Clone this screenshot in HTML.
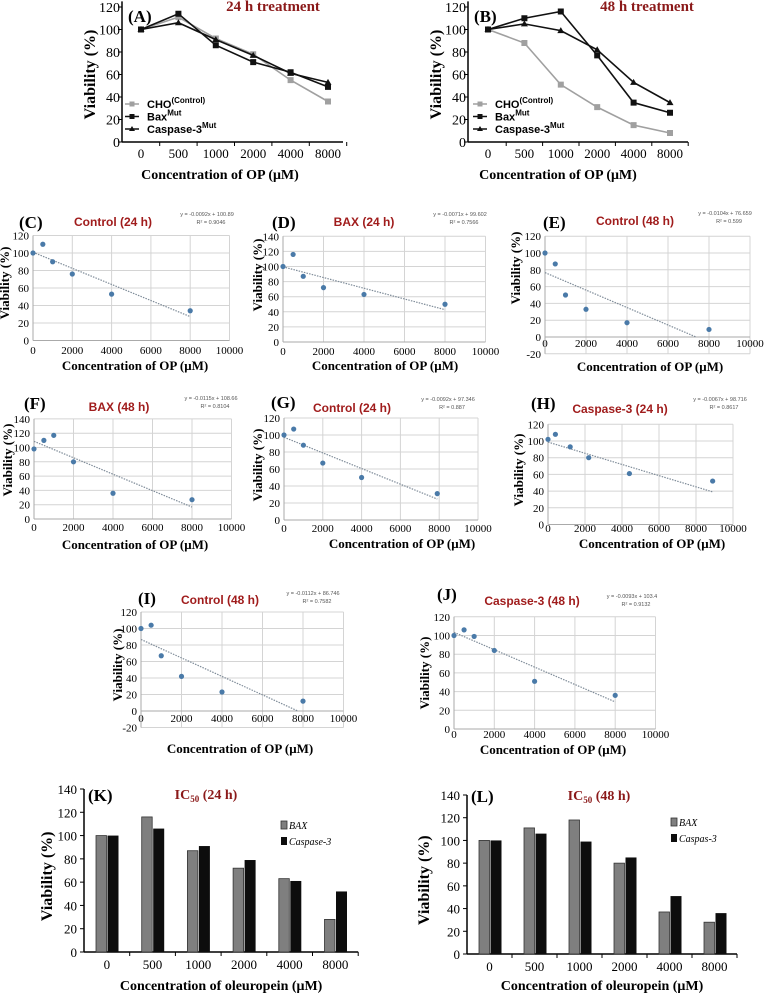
<!DOCTYPE html>
<html><head><meta charset="utf-8">
<style>
html,body{margin:0;padding:0;background:#fff;}
svg{display:block;}
.ser{font-family:"Liberation Serif",serif;}
.san{font-family:"Liberation Sans",sans-serif;}
</style></head>
<body>
<svg id="fig" width="765" height="995" viewBox="0 0 765 995" xmlns="http://www.w3.org/2000/svg"></svg>
<script>
// ---------- DATA ----------
const lineCats = ["0","500","1000","2000","4000","8000"];
const aCho  = [100,111,92,78,55,36];
const aBax  = [100,114,86,71,62,49];
const aCasp = [100,106,91,77,61,53];
const bCho  = [100,88,51,31,15,8];
const bBax  = [100,110,116,77,35,26];
const bCasp = [100,105,99,82,53,35];
const lineYTicks = [0,20,40,60,80,100,120];

const scatterX = [0,500,1000,2000,4000,8000];
const cY = [100,110,90,76,53,34];
const dY = [100,116,87,72,63,50];
const eY = [100,87,50,33,17,9];
const fY = [98,110,117,80,36,27];
const gX = [0,500,1000,2000,4000,7900];
const gY = [100,107,88,67,50,31];
const hX = [0,400,1200,2200,4400,8900];
const hY = [102,108,93,80,61,52];
const iY = [100,104,67,42,23,12];
const jY = [100,106,99,84,51,36];
const cFit = [-0.0092,100.89], dFit=[-0.0071,99.602], eFit=[-0.0104,76.659], fFit=[-0.0115,108.66];
const gFit = [-0.0092,97.346], hFit=[-0.0067,98.716], iFit=[-0.0112,86.746], jFit=[-0.0093,103.4];
const xTickVals = [0,2000,4000,6000,8000,10000];

const barCats = ["0","500","1000","2000","4000","8000"];
const kBax  = [100,116,87,72,63,28];
const kCasp = [100,106,91,79,61,52];
const lBax  = [100,111,118,80,37,28];
const lCasp = [100,106,99,85,51,36];
const barYTicks = [0,20,40,60,80,100,120,140];

// ---------- HELPERS ----------
const NS="http://www.w3.org/2000/svg";
const svg=document.getElementById('fig');
function mk(tag,attrs,parent,text){const e=document.createElementNS(NS,tag);for(const k in attrs)e.setAttribute(k,attrs[k]);if(text!==undefined)e.textContent=text;(parent||svg).appendChild(e);return e;}
function grp(name){const g=mk('g',{});return g;}

// ---------- LINE CHARTS (A,B) ----------
function lineChart(name,g,cfg,cho,bax,casp){
  const sy=v=>cfg.y0-v*cfg.ky, sx=i=>cfg.c0+i*cfg.step;
  let e=mk('line',{x1:cfg.ax,y1:cfg.y0-125*cfg.ky,x2:cfg.ax,y2:cfg.y0,stroke:'#000','stroke-width':1.5},g);
  
  
  e=mk('line',{x1:cfg.ax,y1:cfg.y0,x2:cfg.xend,y2:cfg.y0,stroke:'#000','stroke-width':1.5},g);
  
  
  lineYTicks.forEach(t=>{
    mk('line',{x1:cfg.ax-4,y1:sy(t),x2:cfg.ax,y2:sy(t),stroke:'#000'},g);
    e=mk('text',{x:cfg.ax-2,y:sy(t)+5,'text-anchor':'end','font-size':14,class:'ser'},g,String(t));
    
    
  });
  lineCats.forEach((c,i)=>{
    mk('line',{x1:sx(i)+cfg.step/2,y1:cfg.y0,x2:sx(i)+cfg.step/2,y2:cfg.y0+4,stroke:'#000'},g);
    e=mk('text',{x:sx(i),y:cfg.y0+16,'text-anchor':'middle','font-size':13,class:'ser'},g,c);
    
    
  });
  const series=[[cho,'#a0a0a0','sq-light','cho-series'],[bax,'#111','sq','bax-series'],[casp,'#111','tri','caspase-series']];
  series.forEach(s=>{
    const pts=s[0].map((v,i)=>sx(i)+','+sy(v)).join(' ');
    e=mk('polyline',{points:pts,fill:'none',stroke:s[1],'stroke-width':1.6},g);
    
    
    s[0].forEach((v,i)=>{
      if(s[2]==='tri') e=mk('polygon',{points:`${sx(i)},${sy(v)-3.5} ${sx(i)-3.5},${sy(v)+2.5} ${sx(i)+3.5},${sy(v)+2.5}`,fill:s[1]},g);
      else e=mk('rect',{x:sx(i)-3,y:sy(v)-3,width:6,height:6,fill:s[1]},g);
      
      
    });
  });
  // legend
  const leg=[['#a0a0a0','CHO','(Control)','sq'],['#111','Bax','Mut','sq'],['#111','Caspase-3','Mut','tri']];
  leg.forEach((l,i)=>{
    const y=cfg.legY+i*12.5;
    mk('line',{x1:cfg.legX-7,y1:y,x2:cfg.legX+7,y2:y,stroke:l[0],'stroke-width':1.5},g);
    if(l[3]==='tri') mk('polygon',{points:`${cfg.legX},${y-3} ${cfg.legX-3},${y+2} ${cfg.legX+3},${y+2}`,fill:l[0]},g);
    else mk('rect',{x:cfg.legX-2.5,y:y-2.5,width:5,height:5,fill:l[0]},g);
    e=mk('text',{x:cfg.legX+15,y:y+4,'font-size':11,'font-weight':'bold',class:'san'},g);
    
    
    mk('tspan',{},e,l[1]);
    mk('tspan',{dy:-5,'font-size':8},e,l[2]);
  });
  e=mk('text',{x:cfg.ax+6,y:22,'font-size':17,'font-weight':'bold',class:'ser'},g,cfg.tag);
  
  
  e=mk('text',{x:cfg.titleX,y:11,'text-anchor':'middle','font-size':15,'font-weight':'bold',fill:'#8b1a1a',class:'ser'},g,cfg.title);
  
  
  e=mk('text',{x:cfg.concX,y:179,'text-anchor':'middle','font-size':14,'font-weight':'bold',class:'ser'},g,'Concentration of OP (μM)');
  
  
  e=mk('text',{x:0,y:0,transform:`translate(${cfg.viaX},${cfg.y0-60*cfg.ky}) rotate(-90)`,'text-anchor':'middle','font-size':16,'font-weight':'bold',class:'ser'},g,'Viability (%)');
  
  
}
lineChart('panel-a',grp('panel-a'),{ax:122,y0:142,ky:(142-7)/120,c0:141,step:37.4,xend:343,legX:132,legY:104,tag:'(A)',title:'24 h treatment',titleX:273,concX:220,viaX:95},aCho,aBax,aCasp);
lineChart('panel-b',grp('panel-b'),{ax:468,y0:142,ky:(142-7)/120,c0:488,step:36.4,xend:688,legX:480,legY:104,tag:'(B)',title:'48 h treatment',titleX:647,concX:558,viaX:441},bCho,bBax,bCasp);

// ---------- SCATTER PANELS ----------
function scatter(g,c,xs,ys,fit){
  const sx=v=>c.x0+v/2000*c.px, sy=v=>c.y0-v/20*c.py;
  const right=sx(10000), top=sy(c.ymax), bot=sy(c.ymin);
  let e;
  for(let t=c.ymin;t<=c.ymax;t+=20){
    e=mk('line',{x1:c.x0,y1:sy(t),x2:right,y2:sy(t),stroke:'#d4d4d4','stroke-width':1},g);
    
    
    e=mk('text',{x:c.x0-4,y:sy(t)+4,'text-anchor':'end','font-size':11,class:'ser'},g,String(t));
    
    
  }
  xTickVals.forEach(t=>{
    e=mk('line',{x1:sx(t),y1:top,x2:sx(t),y2:bot,stroke:'#d4d4d4','stroke-width':1},g);
    
    
    e=mk('text',{x:sx(t),y:c.labY,'text-anchor':'middle','font-size':11,class:'ser'},g,String(t));
    
    
  });
  mk('line',{x1:c.x0,y1:sy(0),x2:right,y2:sy(0),stroke:'#aaa','stroke-width':1},g);
  mk('line',{x1:c.x0,y1:top,x2:c.x0,y2:bot,stroke:'#aaa','stroke-width':1},g);
  // trendline
  let xEnd=xs[xs.length-1];
  const xz=-fit[1]/fit[0];
  if(c.ymin<0 && xz<xEnd) xEnd=xz;
  e=mk('line',{x1:sx(0),y1:sy(fit[1]),x2:sx(xEnd),y2:sy(fit[0]*xEnd+fit[1]),stroke:'#7f8c99','stroke-width':1.2,'stroke-dasharray':'1.5 1.2'},g);
  
  
  xs.forEach((x,i)=>{
    e=mk('circle',{cx:sx(x),cy:sy(ys[i]),r:2.6,fill:'#4a7aa8'},g);
    
    
  });
  e=mk('text',{x:c.tagX,y:c.tagY,'font-size':17,'font-weight':'bold',class:'ser'},g,c.tag);
  
  
  e=mk('text',{x:c.titleX,y:c.titleY,'text-anchor':'middle','font-size':12,'font-weight':'bold',fill:'#a01c1c',class:'san'},g,c.title);
  
  
  const sgn=fit[1]>=0?' + ':' - ';
  e=mk('text',{x:c.eqX,y:c.eqY,'text-anchor':'middle','font-size':5.5,fill:'#555',class:'san'},g,'y = '+fit[0]+'x'+sgn+Math.abs(fit[1]));
  
  
  e=mk('text',{x:c.eqX+4,y:c.eqY+8,'text-anchor':'middle','font-size':5.5,fill:'#555',class:'san'},g,'R² = '+c.r2);
  
  
  e=mk('text',{x:c.concX,y:c.concY,'text-anchor':'middle','font-size':13,'font-weight':'bold',class:'ser'},g,'Concentration of OP (μM)');
  
  
  e=mk('text',{x:0,y:0,transform:`translate(${c.viaX},${c.viaY}) rotate(-90)`,'text-anchor':'middle','font-size':13,'font-weight':'bold',class:'ser'},g,'Viability (%)');
  
  
}
scatter(grp('panel-c'),{x0:33,px:39.3,y0:340.5,py:17.5,ymin:0,ymax:120,labY:354,concX:135,concY:370,viaX:9,viaY:283,tag:'(C)',tagX:19,tagY:228,title:'Control  (24 h)',titleX:113,titleY:226,eqX:207,eqY:216,r2:'0.9046'},scatterX,cY,cFit);
scatter(grp('panel-d'),{x0:283,px:40.5,y0:342,py:15.1,ymin:0,ymax:140,labY:355,concX:385,concY:370,viaX:262,viaY:275,tag:'(D)',tagX:272,tagY:228,title:'BAX (24 h)',titleX:364,titleY:226,eqX:460,eqY:216,r2:'0.7566'},scatterX,dY,dFit);
scatter(grp('panel-e'),{x0:545,px:41,y0:337,py:16.8,ymin:-20,ymax:120,labY:347,concX:650,concY:371,viaX:520,viaY:268,tag:'(E)',tagX:543,tagY:228,title:'Control  (48 h)',titleX:635,titleY:225,eqX:725,eqY:215,r2:'0.599'},scatterX,eY,eFit);
scatter(grp('panel-f'),{x0:34,px:39.5,y0:519,py:14.3,ymin:0,ymax:140,labY:531,concX:135,concY:549,viaX:12,viaY:460,tag:'(F)',tagX:24,tagY:409,title:'BAX (48 h)',titleX:119,titleY:411,eqX:211,eqY:400,r2:'0.8104'},scatterX,fY,fFit);
scatter(grp('panel-g'),{x0:284,px:38.8,y0:520,py:17,ymin:0,ymax:120,labY:532,concX:402,concY:548,viaX:262,viaY:465,tag:'(G)',tagX:271,tagY:408,title:'Control  (24 h)',titleX:352,titleY:412,eqX:448,eqY:401,r2:'0.887'},gX,gY,gFit);
scatter(grp('panel-h'),{x0:548,px:37,y0:524.5,py:16.7,ymin:0,ymax:120,labY:532,concX:652,concY:548,viaX:523,viaY:470,tag:'(H)',tagX:531,tagY:409,title:'Caspase-3  (24 h)',titleX:620,titleY:413,eqX:720,eqY:401,r2:'0.8617'},hX,hY,hFit);
scatter(grp('panel-i'),{x0:141,px:40.5,y0:711,py:16.5,ymin:-20,ymax:120,labY:722,concX:240,concY:753,viaX:122,viaY:665,tag:'(I)',tagX:138,tagY:604,title:'Control  (48 h)',titleX:220,titleY:604,eqX:313,eqY:595,r2:'0.7582'},scatterX,iY,iFit);
scatter(grp('panel-j'),{x0:454,px:40.3,y0:729,py:18.7,ymin:0,ymax:120,labY:738,concX:553,concY:754,viaX:429,viaY:673,tag:'(J)',tagX:437,tagY:600,title:'Caspase-3  (48 h)',titleX:532,titleY:605,eqX:632,eqY:598,r2:'0.9132'},scatterX,jY,jFit);

// ---------- BAR CHARTS (K,L) ----------
function bars(g,c,bax,casp){
  const sy=v=>c.y0-v*c.ky;
  let e;
  e=mk('line',{x1:c.ax,y1:sy(140),x2:c.ax,y2:c.y0,stroke:'#000','stroke-width':1.5},g);
  
  
  e=mk('line',{x1:c.ax,y1:c.y0,x2:c.ax+6*c.w,y2:c.y0,stroke:'#000','stroke-width':1.5},g);
  
  
  barYTicks.forEach(t=>{
    mk('line',{x1:c.ax-4,y1:sy(t),x2:c.ax,y2:sy(t),stroke:'#000'},g);
    e=mk('text',{x:c.ax-7,y:sy(t)+5,'text-anchor':'end','font-size':13,class:'ser'},g,String(t));
    
    
  });
  barCats.forEach((cat,i)=>{
    const x=c.ax+i*c.w;
    mk('line',{x1:x+c.w,y1:c.y0,x2:x+c.w,y2:c.y0+4,stroke:'#000'},g);
    e=mk('rect',{x:x+12,y:sy(bax[i]),width:10.5,height:bax[i]*c.ky,fill:'#7f7f7f',stroke:'#333','stroke-width':0.8},g);
    
    
    e=mk('rect',{x:x+23.5,y:sy(casp[i]),width:11,height:casp[i]*c.ky,fill:'#0d0d0d'},g);
    
    
    e=mk('text',{x:x+c.w/2,y:c.y0+17,'text-anchor':'middle','font-size':13,class:'ser'},g,cat);
    
    
  });
  e=mk('text',{x:c.ax+4,y:c.tagY,'font-size':17,'font-weight':'bold',class:'ser'},g,c.tag);
  
  
  e=mk('text',{x:c.titleX,y:c.tagY-2,'text-anchor':'middle','font-size':14,'font-weight':'bold',fill:'#8b1a1a',class:'ser'},g);
  
  
  mk('tspan',{},e,'IC');mk('tspan',{'font-size':9,dy:3},e,'50');mk('tspan',{dy:-3},e,' ('+c.h+')');
  e=mk('rect',{x:c.legX,y:c.legY-5,width:6,height:8,fill:'#7f7f7f',stroke:'#333','stroke-width':0.8},g);
  
  
  e=mk('text',{x:c.legX+8,y:c.legY+3,'font-size':10,'font-style':'italic',class:'ser'},g,'BAX');
  
  
  e=mk('rect',{x:c.legX,y:c.legY+11,width:6,height:8,fill:'#0d0d0d'},g);
  
  
  e=mk('text',{x:c.legX+8,y:c.legY+19,'font-size':10,'font-style':'italic',class:'ser'},g,c.casLabel);
  
  
  e=mk('text',{x:c.ax+3*c.w,y:c.concY,'text-anchor':'middle','font-size':14,'font-weight':'bold',class:'ser'},g,'Concentration of oleuropein (μM)');
  
  
  e=mk('text',{x:0,y:0,transform:`translate(${c.viaX},${sy(65)}) rotate(-90)`,'text-anchor':'middle','font-size':16,'font-weight':'bold',class:'ser'},g,'Viability (%)');
  
  
}
bars(grp('panel-k'),{ax:84,w:45.7,y0:952,ky:(952-789)/140,tag:'(K)',tagY:801,titleX:206,h:'24 h',legX:281,legY:826,casLabel:'Caspase-3',concY:990,viaX:52},kBax,kCasp);
bars(grp('panel-l'),{ax:467,w:45,y0:954,ky:(954-795)/140,tag:'(L)',tagY:802,titleX:599,h:'48 h',legX:671,legY:823,casLabel:'Caspas-3',concY:990,viaX:429},lBax,lCasp);
</script>
</body></html>
